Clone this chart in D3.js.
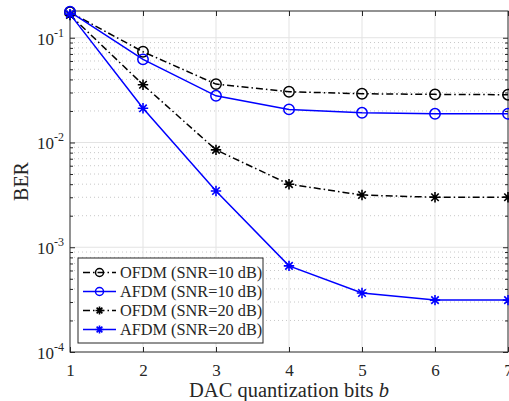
<!DOCTYPE html>
<html>
<head>
<meta charset="utf-8">
<script src="https://cdn.jsdelivr.net/npm/d3@7"></script>
<style>
  html, body { margin: 0; padding: 0; background: #fff; }
  svg { display: block; }
  text { font-family: "Liberation Serif", "DejaVu Serif", serif; fill: #262626; }
</style>
</head>
<body>
<svg id="chart" width="509" height="401"></svg>
<script>
// Quantization bits on the horizontal axis
const bits = [1, 2, 3, 4, 5, 6, 7];
// Bit error rate for each scheme
const ofdm10 = [0.175, 0.0735, 0.0361, 0.0305, 0.0292, 0.0288, 0.0286];
const afdm10 = [0.177, 0.0622, 0.0279, 0.0207, 0.0192, 0.0188, 0.0188];
const ofdm20 = [0.165, 0.0356, 0.0085, 0.0040, 0.00315, 0.0030, 0.0030];
const afdm20 = [0.168, 0.0212, 0.00344, 0.000664, 0.000366, 0.000313, 0.000313];
const seriesNames = ["OFDM (SNR=10 dB)", "AFDM (SNR=10 dB)", "OFDM (SNR=20 dB)", "AFDM (SNR=20 dB)"];
const xTicks = [1, 2, 3, 4, 5, 6, 7];
const yDecades = [-4, -3, -2, -1];

const series = [
  { name: seriesNames[0], values: ofdm10, color: "#000000", dash: "7,3,1.5,3", marker: "circle" },
  { name: seriesNames[1], values: afdm10, color: "#0000ff", dash: null, marker: "circle" },
  { name: seriesNames[2], values: ofdm20, color: "#000000", dash: "7,3,1.5,3", marker: "star" },
  { name: seriesNames[3], values: afdm20, color: "#0000ff", dash: null, marker: "star" }
];

const svg = d3.select("#chart");
const margin = { left: 70, right: 1, top: 11, bottom: 49 };
const W = 509, H = 401;

const x = d3.scaleLinear().domain([1, 7]).range([margin.left, W - margin.right]);
const y = d3.scaleLog().domain([1e-4, 0.18]).range([H - margin.bottom, margin.top]);

const x0 = x.range()[0], x1 = x.range()[1];
const y0 = y.range()[0], y1 = y.range()[1];

// Minor (dotted) grid lines
const minorVals = [];
yDecades.forEach(d => {
  for (let m = 2; m <= 9; m++) {
    const v = m * Math.pow(10, d);
    if (v <= y.domain()[1]) minorVals.push(v);
  }
});
svg.append("g").selectAll("line").data(minorVals).join("line")
  .attr("x1", x0).attr("x2", x1)
  .attr("y1", d => y(d)).attr("y2", d => y(d))
  .attr("stroke", "#c8c8c8").attr("stroke-width", 1)
  .attr("stroke-dasharray", "1,3");

// Major grid lines
const grid = svg.append("g").attr("stroke", "#e3e3e3").attr("stroke-width", 1);
grid.selectAll(".gx").data(xTicks.slice(1, -1)).join("line")
  .attr("x1", d => x(d)).attr("x2", d => x(d)).attr("y1", y0).attr("y2", y1);
grid.selectAll(".gy").data(yDecades.slice(1).map(d => Math.pow(10, d))).join("line")
  .attr("x1", x0).attr("x2", x1).attr("y1", d => y(d)).attr("y2", d => y(d));

// Axes (ticks point inward, box on all sides)
const axisColor = "#262626";
const xAxis = d3.axisBottom(x).tickValues(xTicks).tickSize(-5).tickFormat(d3.format("d")).tickPadding(12);
const gx = svg.append("g").attr("transform", `translate(0,${y0})`).call(xAxis);
gx.select(".domain").remove();
gx.selectAll("line").attr("stroke", axisColor);
gx.selectAll("text").style("font-size", "17px").attr("fill", axisColor)
  .style("font-family", '"Liberation Serif", serif');

const gxTop = svg.append("g").attr("transform", `translate(0,${y1})`)
  .call(d3.axisTop(x).tickValues(xTicks).tickSize(-5).tickFormat(""));
gxTop.select(".domain").remove();
gxTop.selectAll("line").attr("stroke", axisColor);

const majorY = yDecades.map(d => Math.pow(10, d));
const yAxis = d3.axisLeft(y).tickValues(majorY).tickSize(-5).tickFormat("").tickPadding(6);
const gy = svg.append("g").attr("transform", `translate(${x0},0)`).call(yAxis);
gy.select(".domain").remove();
gy.selectAll("line").attr("stroke", axisColor);
const gyMinor = svg.append("g").attr("transform", `translate(${x0},0)`)
  .call(d3.axisLeft(y).tickValues(minorVals).tickSize(-3).tickFormat(""));
gyMinor.select(".domain").remove();
gyMinor.selectAll("line").attr("stroke", axisColor);

const gyR = svg.append("g").attr("transform", `translate(${x1},0)`)
  .call(d3.axisRight(y).tickValues(majorY).tickSize(-5).tickFormat(""));
gyR.select(".domain").remove();
gyR.selectAll("line").attr("stroke", axisColor);
const gyRMinor = svg.append("g").attr("transform", `translate(${x1},0)`)
  .call(d3.axisRight(y).tickValues(minorVals).tickSize(-3).tickFormat(""));
gyRMinor.select(".domain").remove();
gyRMinor.selectAll("line").attr("stroke", axisColor);

// Y tick labels as 10^n
const yl = svg.append("g");
yDecades.forEach(d => {
  const t = yl.append("text").attr("x", x0 - 6).attr("y", y(Math.pow(10, d)) + 7)
    .attr("text-anchor", "end").style("font-size", "17px");
  t.append("tspan").text("10");
  t.append("tspan").attr("dy", -8).style("font-size", "12px").text("-" + Math.abs(d));
});

// Box
svg.append("rect").attr("x", x0).attr("y", y1).attr("width", x1 - x0).attr("height", y0 - y1)
  .attr("fill", "none").attr("stroke", axisColor).attr("stroke-width", 1);

// Lines and markers
const line = d3.line().x((d, i) => x(bits[i])).y(d => y(d));
const star = (g, cx, cy, r, color) => {
  const p = d3.path();
  p.moveTo(cx - r, cy); p.lineTo(cx + r, cy);
  p.moveTo(cx, cy - r); p.lineTo(cx, cy + r);
  const k = r * 0.72;
  p.moveTo(cx - k, cy - k); p.lineTo(cx + k, cy + k);
  p.moveTo(cx - k, cy + k); p.lineTo(cx + k, cy - k);
  g.append("path").attr("d", p.toString()).attr("stroke", color).attr("stroke-width", 1.6).attr("fill", "none");
};
const drawMarker = (g, type, cx, cy, color, r) => {
  if (type === "circle") {
    g.append("circle").attr("cx", cx).attr("cy", cy).attr("r", r)
      .attr("fill", "none").attr("stroke", color).attr("stroke-width", 1.5);
  } else {
    star(g, cx, cy, r, color);
  }
};

const plot = svg.append("g");
series.forEach(s => {
  plot.append("path").datum(s.values).attr("d", line)
    .attr("fill", "none").attr("stroke", s.color).attr("stroke-width", 1.5)
    .attr("stroke-dasharray", s.dash);
  const mg = plot.append("g");
  s.values.forEach((v, i) => drawMarker(mg, s.marker, x(bits[i]), y(v), s.color, 5.2));
});

// Axis titles
const xl = svg.append("text").attr("x", (x0 + x1) / 2).attr("y", 397)
  .attr("text-anchor", "middle").style("font-size", "20.5px");
xl.append("tspan").text("DAC quantization bits ");
xl.append("tspan").style("font-style", "italic").text("b");

svg.append("text").attr("transform", `translate(28,${(y0 + y1) / 2}) rotate(-90)`)
  .attr("text-anchor", "middle").style("font-size", "20px").text("BER");

// Legend
const lg = svg.append("g");
const lx = 78, ly = 258, lw = 185, lh = 85;
lg.append("rect").attr("x", lx).attr("y", ly).attr("width", lw).attr("height", lh)
  .attr("fill", "#fff").attr("stroke", axisColor).attr("stroke-width", 1);
series.forEach((s, i) => {
  const ry = ly + 14.5 + i * 19;
  lg.append("line").attr("x1", lx + 5).attr("x2", lx + 38).attr("y1", ry).attr("y2", ry)
    .attr("stroke", s.color).attr("stroke-width", 1.5).attr("stroke-dasharray", s.dash);
  drawMarker(lg, s.marker, lx + 21.5, ry, s.color, 4);
  lg.append("text").attr("x", lx + 42).attr("y", ry + 5.5).style("font-size", "16.3px").text(s.name);
});
</script>
</body>
</html>
